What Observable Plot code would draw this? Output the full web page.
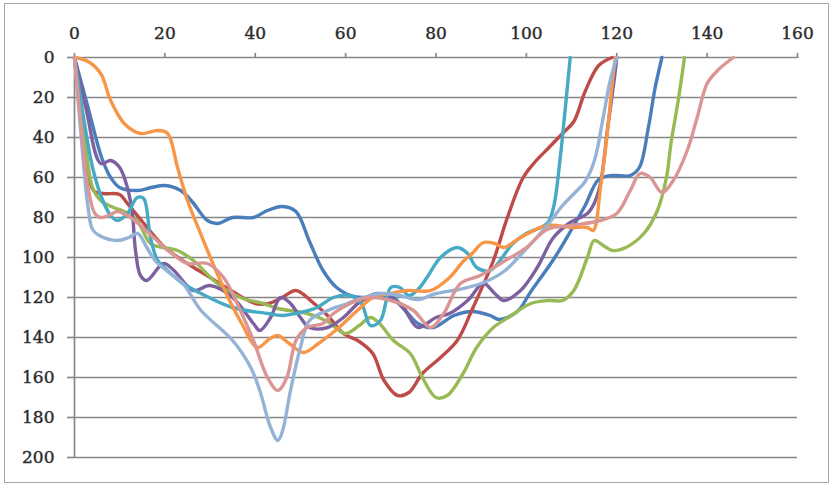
<!DOCTYPE html>
<html>
<head>
<meta charset="utf-8">
<script src="https://cdn.jsdelivr.net/npm/d3@7"></script>
<script src="https://cdn.jsdelivr.net/npm/@observablehq/plot@0.6"></script>
<style>
  html, body { margin: 0; padding: 0; background: #fff; }
  #wrap { position: relative; width: 833px; height: 485px; }
  #border { position: absolute; left: 4px; top: 3px; width: 823px; height: 478px; border: 1.5px solid #a6a6a6; pointer-events: none; }
  #wrap svg text { stroke: #2b2b2b; stroke-width: 0.4px; }
</style>
</head>
<body>
<div id="wrap"><div id="border"></div></div>
<script>
const xTicks = [0, 20, 40, 60, 80, 100, 120, 140, 160];
const yTicks = [0, 20, 40, 60, 80, 100, 120, 140, 160, 180, 200];

const seriesNames = ["Series 1", "Series 2", "Series 3", "Series 4", "Series 5", "Series 6", "Series 7", "Series 8"];
const seriesColors = ["#4a7ebb", "#be4b48", "#98b954", "#7d60a0", "#46aac5", "#f79646", "#95b3d7", "#d99694"];

const s1 = [[0,0],[3,25],[6,50],[8,60],[10,65],[14,66.5],[17,65],[20,64],[23.5,66.5],[26,72],[29.4,81.5],[31.6,83],[35,80],[39.6,80],[42.7,76.5],[46,74.5],[49,77],[52,92],[55,106.5],[58,115],[61.8,119.5],[66,120],[70,119],[72,123],[76,133],[79.4,135],[84,129],[88,127],[92,129],[94,131],[98,127],[101,117],[106,101],[110,86],[113,74],[116,61],[119,59],[123,59],[125,55],[127,35],[128.5,15],[130,0]];
const s2 = [[0,0],[2,35],[4.2,66.5],[6.4,68],[10,68.5],[11.7,73],[15,82],[20,95],[25,103],[30,110],[35,117],[40,123],[43,123],[46,120],[49,116.5],[53,123],[56,129],[59.5,138],[63,142],[66,148],[68.5,161.5],[71.5,169],[74,167.5],[77,158],[81,150],[84.7,141.5],[88,126],[92.7,101.5],[95.8,80],[99.3,60],[102,52],[105,45],[108,38],[110.5,32],[113,17],[116,4],[119,0]];
const s3 = [[0,0],[2,35],[4,65],[5.8,71.5],[8.6,75],[11,77],[14,82],[16.8,93],[19.7,95],[22.8,96.5],[26.3,101.5],[31.6,113],[36.7,120],[41.8,123],[45,125.5],[51.5,128],[56,132],[60,138],[63,134],[65.5,130],[67.5,133],[70.6,141.5],[74.3,148],[77,160],[80,170],[82.5,169],[86,158],[89,145],[92.7,135],[96,130],[101,123],[105,121.5],[108,121.5],[110.5,116.5],[113.5,100],[115,91.5],[117,94],[119,96.5],[122,95],[126,88],[129,76.5],[131,60],[132,43],[133.6,21.5],[135,0]];
const s4 = [[0,0],[2.5,25],[5.8,53],[8,51.5],[10,55],[11.7,65],[12.8,78],[13.5,96.5],[14.6,109],[16,111.5],[19.7,103],[22,106.5],[26.3,116.5],[30,114],[35,120],[39.6,133],[41,136.5],[43.4,130],[45.6,120],[47.8,123],[50,130],[52,135],[56,135],[59.5,130],[63,122.5],[67,118],[70,120],[73,126],[76,135],[80,130],[83,128],[87,121.5],[90.5,113],[93,118],[95,121.5],[98.7,116.5],[102.4,105],[106,90],[109.7,82.5],[113.5,78],[115,73],[116.4,63],[118,35],[119.5,10],[120,0]];
const s5 = [[0,0],[2,30],[4,55],[6,70],[8,79],[9.5,81.5],[11.7,78],[13.9,70],[15.3,70.5],[16.8,90],[18.4,101.5],[20.6,106.5],[24,113],[28,118],[35,125],[42.7,128],[46,129],[50,127.5],[53.7,125],[57.3,120],[61,119],[63.5,123],[65.5,134],[67.7,131.5],[70,115],[72,115],[74,119],[76,116],[78,110],[81,100],[84.7,95],[87,98],[89,105],[92,106.5],[97,93],[100,88],[104.6,83],[106,75],[107.5,50],[108.5,28],[109.7,0]];
const s6 = [[0,0],[3,2],[5.8,8],[8,21.5],[11,33],[14.6,38],[18.4,36.5],[20.6,38],[22.8,55],[25,71.5],[27.9,88],[31,105],[34,120],[37,133],[40.5,145],[43,141],[45,139],[47.5,143],[50.7,147.5],[54,143],[58,136],[62.6,126.5],[66,120],[70,118],[73.6,116.5],[78.8,116.5],[83,110],[86,102],[88,98],[90.5,92.5],[93,93],[95,95],[98.7,90],[104.6,84],[110,85],[113.5,85],[114.8,86.5],[116.4,65],[117.9,38],[119,13],[119.7,0]];
const s7 = [[0,0],[1.5,40],[3,75],[4,86],[5.5,89],[9.5,91.5],[12,90],[14,88],[16,95],[18,102],[20.6,107],[24,113],[28,126.5],[35,141.5],[39,155],[41,166.5],[43.4,185],[45,191.5],[46,187],[47.8,166.5],[50,145],[52,131.5],[56,126.5],[60.4,123],[64,120],[68,118],[72,119],[76,121],[80,118],[85,116],[90,113],[95,107],[99,98],[104.6,84],[108,74],[111,67],[113,62],[115,52],[117,30],[118.5,12],[120,0]];
const s8 = [[0,0],[1.5,35],[3,65],[4.5,78],[5.8,80],[8,78.5],[9.5,77],[12.4,80],[17.5,90],[21,97],[25,103],[29.4,103],[33,110],[36.7,126.5],[39.6,141.5],[42.7,160],[45,166.5],[47,160],[49,141.5],[51.5,135],[55,133],[57.3,128],[61,123],[65,120],[70,121.5],[75,126.5],[78.8,135],[81.7,128],[85.4,113],[89.8,109],[95,102],[100,95],[104.6,86],[110,84],[116.4,81.5],[120,78],[123,66.5],[125.2,58],[127.4,60],[130,67.5],[132.5,61.5],[135.6,46.5],[137.8,30],[140,13],[142.3,6.5],[145.8,0]];

const seriesData = [s1, s2, s3, s4, s5, s6, s7, s8];
const rows = seriesData.flatMap((pts, i) => pts.map(([x, y]) => ({series: seriesNames[i], x, y})));

const gridColor = "#878787";
const font = "'DejaVu Serif', serif";

const chart = Plot.plot({
  width: 833,
  height: 485,
  marginTop: 57,
  marginRight: 36,
  marginBottom: 28,
  marginLeft: 74,
  style: {fontFamily: font, fontSize: "17px", color: "#2b2b2b", background: "transparent"},
  x: {domain: [0, 160]},
  y: {domain: [0, 200], reverse: true},
  color: {type: "ordinal", domain: seriesNames, range: seriesColors},
  marks: [
    Plot.gridY(yTicks, {stroke: gridColor, strokeOpacity: 1, strokeWidth: 1.7}),
    Plot.ruleX([0], {y1: 0, y2: 200, stroke: gridColor, strokeWidth: 1.7}),
    Plot.axisX(xTicks, {anchor: "top", tickSize: 5, tickPadding: 14, stroke: gridColor, strokeWidth: 1.7, label: null, fill: "#2b2b2b", fontSize: 17}),
    Plot.axisY(yTicks, {anchor: "left", tickSize: 7, tickPadding: 13, stroke: gridColor, strokeWidth: 1.7, label: null, fill: "#2b2b2b", fontSize: 17}),
    Plot.line(rows, {x: "x", y: "y", z: "series", stroke: "series", strokeWidth: 3.4, curve: "catmull-rom"})
  ]
});
document.getElementById("wrap").appendChild(chart);
</script>
</body>
</html>
